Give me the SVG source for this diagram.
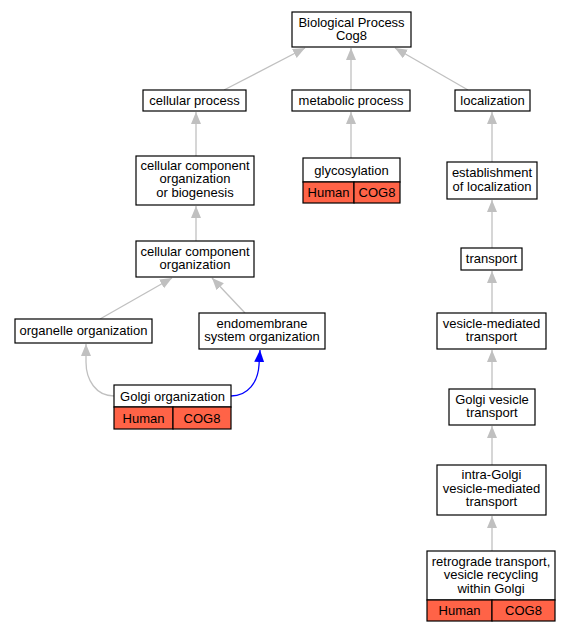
<svg xmlns="http://www.w3.org/2000/svg" width="571" height="632" viewBox="0 0 571 632">
<defs>
<marker id="ag" markerUnits="userSpaceOnUse" markerWidth="14" markerHeight="12" refX="12" refY="5" orient="auto"><path d="M0,0 L12,5 L0,10 z" fill="#c0c0c0"/></marker>
<marker id="ab" markerUnits="userSpaceOnUse" markerWidth="14" markerHeight="12" refX="12" refY="5" orient="auto"><path d="M0,0 L12,5 L0,10 z" fill="#0000ff"/></marker>
</defs>
<style>
rect{fill:#fff;stroke:#000;stroke-width:1.2}
rect.r{fill:#ff6347}
text{font-family:"Liberation Sans",Arial,sans-serif;font-size:13px;text-anchor:middle;fill:#000}
.e path{fill:none;stroke:#c0c0c0;stroke-width:1.3;marker-end:url(#ag)}
.e path.b{stroke:#0000ff;marker-end:url(#ab)}
</style>
<rect x="0" y="0" width="571" height="632" style="fill:#fff;stroke:none"/>
<g class="e" id="edges">
<path d="M224,90 L305,48"/>
<path d="M351,90 L351,48"/>
<path d="M468,90 L395,48"/>
<path d="M196,156 L196,112"/>
<path d="M351,158 L351,112"/>
<path d="M492,162 L492,112"/>
<path d="M196,241 L196,206"/>
<path d="M100,319 L172,278"/>
<path d="M245,313 L212,278"/>
<path d="M114,396 C96,396 86,380 86,362 L86,344"/>
<path class="b" d="M231,396 C248,396 258,382 259,365 L260,350"/>
<path d="M492,248 L492,200"/>
<path d="M492,313 L492,271"/>
<path d="M492,389 L492,350"/>
<path d="M492,465 L492,426"/>
<path d="M492,551 L492,516"/>
</g>
<g id="root"><rect x="292" y="12" width="119" height="35"/><text x="351.5" y="26.5">Biological Process</text><text x="351.5" y="40">Cog8</text></g>
<g id="cellular_process"><rect x="143" y="90" width="103" height="21"/><text x="194.5" y="105">cellular process</text></g>
<g id="metabolic_process"><rect x="292" y="90" width="118" height="21"/><text x="351" y="105">metabolic process</text></g>
<g id="localization"><rect x="455" y="90" width="75" height="21"/><text x="492.5" y="105">localization</text></g>
<g id="ccob"><rect x="136" y="156" width="118" height="49"/><text x="195" y="169.5">cellular component</text><text x="195" y="183">organization</text><text x="195" y="196.5">or biogenesis</text></g>
<g id="glycosylation"><rect x="303" y="158" width="97" height="24"/><rect class="r" x="303" y="182" width="51" height="21"/><rect class="r" x="354" y="182" width="46" height="21"/><text x="351.5" y="174.5">glycosylation</text><text x="328.5" y="197">Human</text><text x="377" y="197">COG8</text></g>
<g id="establishment"><rect x="447" y="162" width="90" height="37"/><text x="492" y="177">establishment</text><text x="492" y="190.5">of localization</text></g>
<g id="cco"><rect x="136" y="241" width="118" height="36"/><text x="195" y="255.5">cellular component</text><text x="195" y="269">organization</text></g>
<g id="transport"><rect x="461" y="248" width="61" height="22"/><text x="491.5" y="263">transport</text></g>
<g id="organelle"><rect x="15" y="319" width="137" height="24"/><text x="83.5" y="335">organelle organization</text></g>
<g id="endomembrane"><rect x="199" y="313" width="126" height="36"/><text x="262" y="327.5">endomembrane</text><text x="262" y="341">system organization</text></g>
<g id="vesicle"><rect x="437" y="313" width="109" height="36"/><text x="491.5" y="327.5">vesicle-mediated</text><text x="491.5" y="341">transport</text></g>
<g id="golgi_org"><rect x="114" y="385" width="117" height="22"/><rect class="r" x="114" y="407" width="59" height="22"/><rect class="r" x="173" y="407" width="58" height="22"/><text x="172.5" y="400.5">Golgi organization</text><text x="143.5" y="422.5">Human</text><text x="202" y="422.5">COG8</text></g>
<g id="golgi_vesicle"><rect x="449" y="389" width="86" height="36"/><text x="492" y="403.5">Golgi vesicle</text><text x="492" y="417">transport</text></g>
<g id="intra"><rect x="437" y="465" width="109" height="50"/><text x="491.5" y="479">intra-Golgi</text><text x="491.5" y="492.5">vesicle-mediated</text><text x="491.5" y="506">transport</text></g>
<g id="retrograde"><rect x="427" y="551" width="128" height="49"/><rect class="r" x="427" y="600" width="65" height="21"/><rect class="r" x="492" y="600" width="63" height="21"/><text x="491" y="565.5">retrograde transport,</text><text x="491" y="579">vesicle recycling</text><text x="491" y="592.5">within Golgi</text><text x="459.5" y="615">Human</text><text x="523.5" y="615">COG8</text></g>
</svg>
